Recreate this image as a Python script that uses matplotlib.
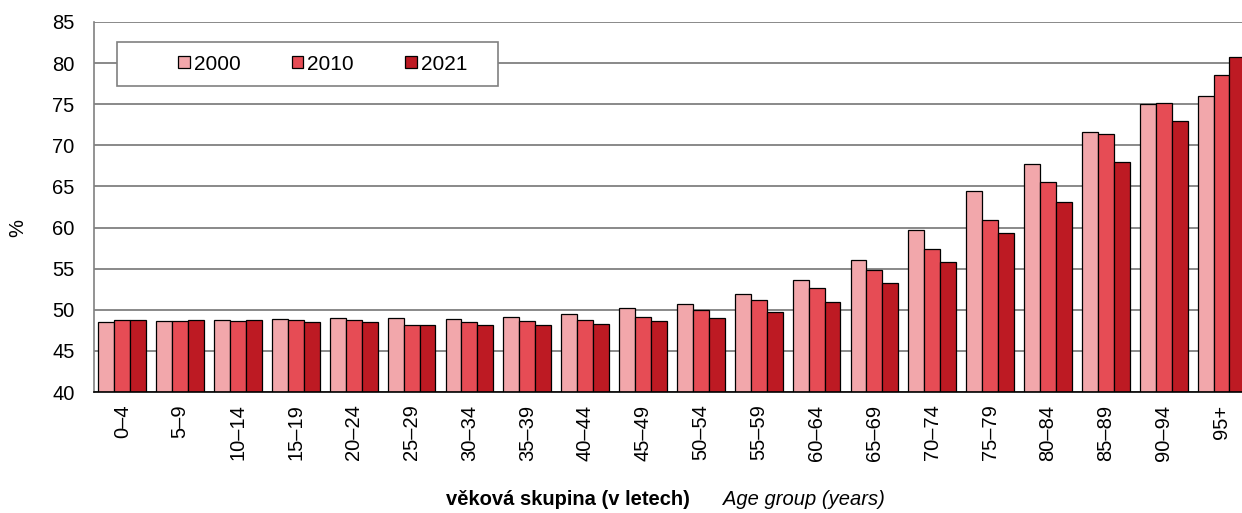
import matplotlib.pyplot as plt
import numpy as np
from matplotlib.patches import Rectangle

# podil zen ve vekovych skupinach (%)
groups = ['0–4', '5–9', '10–14', '15–19', '20–24', '25–29', '30–34', '35–39',
          '40–44', '45–49', '50–54', '55–59', '60–64', '65–69', '70–74',
          '75–79', '80–84', '85–89', '90–94', '95+']
years = ['2000', '2010', '2021']
v2000 = [48.5, 48.6, 48.8, 48.9, 49.0, 49.0, 48.9, 49.1, 49.5, 50.2,
         50.7, 51.9, 53.6, 56.1, 59.7, 64.4, 67.7, 71.6, 75.0, 76.0]
v2010 = [48.7, 48.6, 48.6, 48.7, 48.7, 48.2, 48.5, 48.6, 48.7, 49.1,
         50.0, 51.2, 52.6, 54.8, 57.4, 60.9, 65.5, 71.4, 75.1, 78.5]
v2021 = [48.8, 48.7, 48.8, 48.5, 48.5, 48.2, 48.2, 48.2, 48.3, 48.6,
         49.0, 49.7, 51.0, 53.2, 55.8, 59.3, 63.1, 68.0, 72.9, 80.7]
colors = ['#F2A7AB', '#E64C55', '#BD1A23']

plt.rcParams['font.family'] = ['Liberation Sans', 'DejaVu Sans']

fig = plt.figure(figsize=(12.42, 5.13), dpi=100)
ax = fig.add_axes([94 / 1242, 1 - 392 / 513, 1157 / 1242, 370 / 513])

x = np.arange(len(groups))
w = 0.275
for i, (vals, c) in enumerate(zip([v2000, v2010, v2021], colors)):
    ax.bar(x + (i - 1) * w, np.array(vals) - 40, bottom=40, width=w,
           color=c, edgecolor='black', linewidth=0.9, label=years[i], zorder=2)

ax.set_ylim(40, 85)
ax.set_xlim(-0.49, 19.51)
ax.set_yticks(range(40, 86, 5))
ax.set_xticks(x)
ax.set_xticklabels(groups, rotation=90, fontsize=14.5)
ax.tick_params(axis='y', length=0, pad=14, labelsize=14.5)
ax.tick_params(axis='x', length=0, pad=9)
ax.grid(axis='y', color='#808080', linewidth=1.3, zorder=0)
ax.set_axisbelow(True)

for s in ['top', 'right']:
    ax.spines[s].set_visible(False)
ax.spines['left'].set_color('#808080')
ax.spines['left'].set_linewidth(1.2)
ax.spines['bottom'].set_color('black')
ax.spines['bottom'].set_linewidth(1.2)

fig.text(18, 513 - 228, '%', transform=None, fontsize=14.5, rotation=90,
         ha='center', va='center')

# ramecek legendy
fig.add_artist(Rectangle((117 / 1242, 1 - 86 / 513), 381 / 1242, 44 / 513,
                         transform=fig.transFigure, facecolor='white',
                         edgecolor='#808080', linewidth=1.2, zorder=3))
fig.legend(loc='center left', bbox_to_anchor=(168 / 1242, 1 - 64 / 513),
           ncol=3, frameon=False, fontsize=15, borderpad=0,
           handlelength=0.55, handleheight=0.55, handletextpad=0.2,
           columnspacing=2.45)

fig.text(690, 8, 'věková skupina (v letech)', transform=None,
         fontsize=14.5, fontweight='bold', ha='right', va='baseline')
fig.text(723, 8, 'Age group (years)', transform=None,
         fontsize=14.5, style='italic', ha='left', va='baseline')

fig.savefig('out.png', dpi=100)
